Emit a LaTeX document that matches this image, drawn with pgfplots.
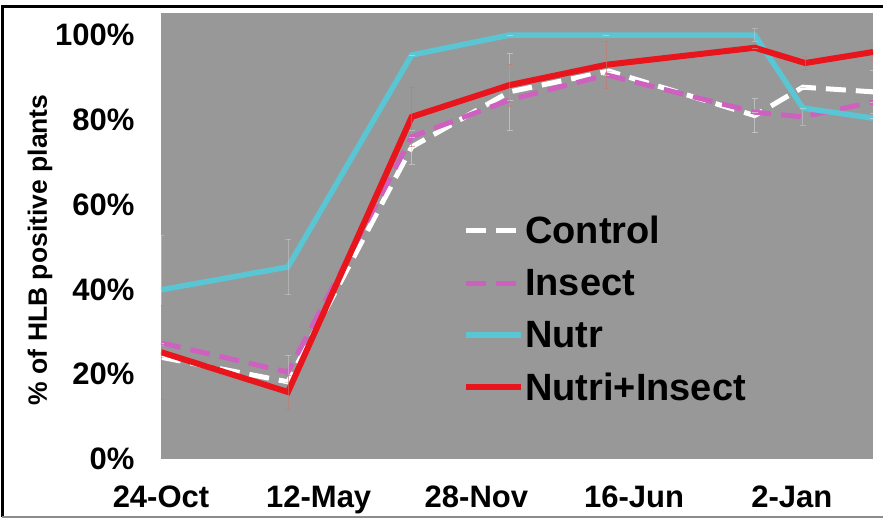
\documentclass[border=0pt]{standalone}
\usepackage{fontspec}
\setmainfont{Liberation Sans}
\usepackage{pgfplots}
\pgfplotsset{compat=1.18}
\definecolor{bggray}{RGB}{152,152,152}
\definecolor{nutr}{RGB}{90,198,212}
\definecolor{redl}{RGB}{232,22,28}
\definecolor{pinkl}{RGB}{206,96,192}
\definecolor{errred}{RGB}{200,120,110}
\definecolor{errw}{RGB}{215,215,215}

\begin{document}
\begin{tikzpicture}
\useasboundingbox (-161pt,-60pt) rectangle (722pt,459pt);
\draw[line width=2.5pt] (-158.5pt,-58pt) -- (-158.5pt,452.5pt) -- (722pt,452.5pt);
\draw[line width=1.5pt, black!45] (-158.5pt,-58pt) -- (722pt,-58pt);
\begin{axis}[
  at={(0pt,0pt)}, anchor=south west,
  scale only axis, width=712pt, height=446pt,
  xmin=0, xmax=903, ymin=0, ymax=105.2,
  axis background/.style={fill=bggray},
  axis line style={draw=none},
  tick style={draw=none},
  xtick={0,200,400,600,800},
  xticklabels={24-Oct,12-May,28-Nov,16-Jun,2-Jan},
  ytick={0,20,40,60,80,100},
  yticklabel={\pgfmathprintnumber{\tick}\%},
  /pgf/number format/assume math mode=true,
  ticklabel style={font=\fontsize{31}{31}\selectfont\bfseries},
  yticklabel style={xshift=-23pt},
  xticklabel style={yshift=-23pt},
  ylabel={\% of HLB positive plants},
  ylabel style={font=\fontsize{26.5}{26.5}\selectfont\bfseries, at={(axis description cs:-0.17,0.469)}, anchor=center, rotate=0},
  legend style={at={(axis cs:383,57.5)}, anchor=north west, draw=none, fill=none,
    font=\fontsize{38}{40}\selectfont\bfseries, row sep=22pt, inner sep=0pt,
    nodes={inner sep=1pt}},
  legend cell align=left,
  legend image code/.code={\draw[#1] (0pt,0pt) -- (55pt,0pt);},
  error bars/y dir=both, error bars/y explicit,
  error bars/error bar style={line width=0.8pt},
  error bars/error mark options={rotate=90, mark size=3pt, line width=0.8pt},
]
% Control
\addplot[white, line width=5pt, dash pattern=on 20pt off 10pt,
  error bars/error bar style={errw, opacity=0.6, line width=0.8pt, solid},
  error bars/error mark options={errw, opacity=0.6, rotate=90, mark size=3pt, solid}]
  coordinates {
  (0,24) +- (0,0)
  (161,18.2) +- (0,0)
  (318,73.6) +- (0,4)
  (442,86.6) +- (0,9)
  (568,91.5) +- (0,0)
  (753,81) +- (0,4)
  (814,87.7) +- (0,0)
  (903,86.6) +- (0,5)
};
\addlegendentry{Control}
% Insect
\addplot[pinkl, line width=5pt, dash pattern=on 20pt off 10pt,
  error bars/error bar style={errw, opacity=0.45, line width=0.8pt, solid},
  error bars/error mark options={errw, opacity=0.45, rotate=90, mark size=3pt, solid}]
  coordinates {
  (0,27.4) +- (0,0)
  (161,20.5) +- (0,4)
  (318,76) +- (0,0)
  (442,84.7) +- (0,0)
  (565,90.6) +- (0,0)
  (753,81.8) +- (0,0)
  (814,80.7) +- (0,2)
  (903,84.2) +- (0,0)
};
\addlegendentry{Insect}
% Nutr
\addplot[nutr, line width=5.5pt,
  error bars/error bar style={errw, opacity=0.4, line width=0.8pt},
  error bars/error mark options={errw, opacity=0.4, rotate=90, mark size=3pt}]
  coordinates {
  (0,39.9) +- (0,13)
  (161,45.3) +- (0,6.5)
  (318,95.3) +- (0,0)
  (442,100) +- (0,0)
  (565,100) +- (0,0)
  (753,100) +- (0,1.5)
  (814,82.8) +- (0,0)
  (903,80.4) +- (0,0)
};
\addlegendentry{Nutr}
% Nutri+Insect
\addplot[redl, line width=6pt,
  error bars/error bar style={errred, opacity=0.6, line width=0.8pt},
  error bars/error mark options={errred, opacity=0.6, rotate=90, mark size=3pt}]
  coordinates {
  (0,25.2) +- (0,11)
  (161,15.8) +- (0,4)
  (318,80.7) +- (0,7)
  (442,88.2) +- (0,5)
  (565,93) +- (0,5.5)
  (753,97) +- (0,0)
  (817,93.4) +- (0,1.5)
  (903,96) +- (0,2)
};
\addlegendentry{Nutri+Insect}
\end{axis}
\end{tikzpicture}
\end{document}
